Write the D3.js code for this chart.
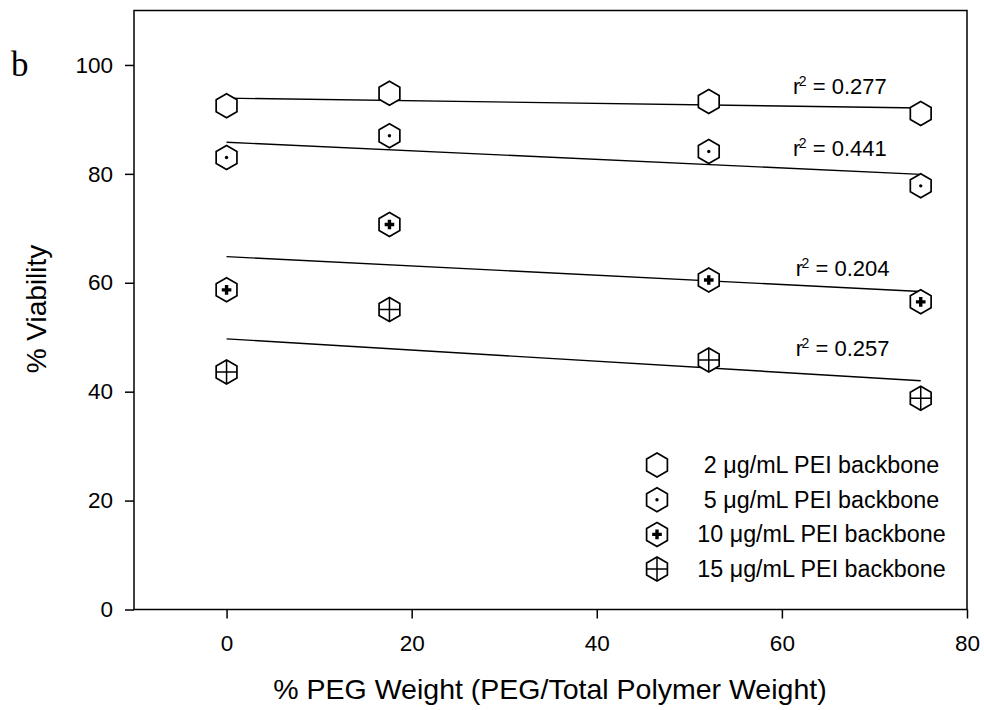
<!DOCTYPE html>
<html>
<head>
<meta charset="utf-8">
<script src="https://cdn.jsdelivr.net/npm/d3@7"></script>
<style>
  body { margin: 0; background: #fff; }
  svg { display: block; font-family: 'Liberation Sans', Arial, sans-serif; }
</style>
</head>
<body>
<script>
// wrap everything so nothing leaks into global scope
;(() => {
  // x values (% PEG weight) shared by all four series
  const pegWeight = [0, 17.6, 52.1, 75]

  // % viability for each PEI backbone dose
  const viability2 = [92.5, 94.8, 93.3, 91.1]
  const viability5 = [83.0, 87.0, 84.1, 77.8]
  const viability10 = [58.7, 70.7, 60.5, 56.5]
  const viability15 = [43.6, 55.1, 45.8, 38.8]

  const seriesNames = [
    '2 μg/mL PEI backbone',
    '5 μg/mL PEI backbone',
    '10 μg/mL PEI backbone',
    '15 μg/mL PEI backbone'
  ]

  // fitted lines, read at x = 0 and x = 75
  const fitX = [0, 75]
  const fitStart = [93.9, 85.8, 64.8, 49.7]
  const fitEnd = [92.1, 79.9, 58.4, 42.0]
  const rSquared = ['0.277', '0.441', '0.204', '0.257']

  const xTicks = [0, 20, 40, 60, 80]
  const yTicks = [0, 20, 40, 60, 80, 100]

  // layout
  const width = 984,
    height = 710
  const plot = { left: 134, right: 967, top: 10.5, bottom: 609.5 }
  // where each r^2 label starts (data units)
  const r2Anchor = [[61.2, 94.6], [61.2, 83.2], [61.5, 61.3], [61.5, 46.5]]
  const hexR = 12

  const allSeries = [viability2, viability5, viability10, viability15]

  const svg = d3
    .select('body')
    .append('svg')
    .attr('width', width)
    .attr('height', height)

  const x = d3.scaleLinear().domain([-10, 80]).range([plot.left, plot.right])
  const y = d3.scaleLinear().domain([0, 110]).range([plot.bottom, plot.top])

  // axes (ticks + labels only, frame drawn separately)
  const xAxis = svg
    .append('g')
    .attr('transform', `translate(0,${plot.bottom})`)
    .call(d3.axisBottom(x).tickValues(xTicks).tickSize(9).tickPadding(17).tickFormat(d3.format('d')))
  const yAxis = svg
    .append('g')
    .attr('transform', `translate(${plot.left},0)`)
    .call(d3.axisLeft(y).tickValues(yTicks).tickSize(9).tickPadding(12).tickFormat(d3.format('d')))

  ;[xAxis, yAxis].forEach(ax => {
    ax.select('.domain').remove()
    ax.selectAll('line').attr('stroke', '#000').attr('stroke-width', 1.5)
    ax.selectAll('text')
      .attr('fill', '#000')
      .style('font-size', '22.5px')
      .style('font-family', "'Liberation Sans', Arial, sans-serif")
  })

  // plot frame
  svg
    .append('rect')
    .attr('x', plot.left)
    .attr('y', plot.top)
    .attr('width', plot.right - plot.left)
    .attr('height', plot.bottom - plot.top)
    .attr('fill', 'none')
    .attr('stroke', '#000')
    .attr('stroke-width', 1.5)

  // regression lines
  const line = d3.line().x(d => x(d[0])).y(d => y(d[1]))
  svg
    .selectAll('.fit')
    .data(fitStart.map((s, i) => [[fitX[0], s], [fitX[1], fitEnd[i]]]))
    .enter()
    .append('path')
    .attr('class', 'fit')
    .attr('d', line)
    .attr('fill', 'none')
    .attr('stroke', '#000')
    .attr('stroke-width', 1.4)

  // hexagon marker with the inner decoration for each series
  const hexPath = r => {
    const pts = d3.range(6).map(k => {
      const a = (Math.PI / 3) * k - Math.PI / 2
      return [r * Math.cos(a), r * Math.sin(a)]
    })
    return 'M' + pts.map(p => p.join(',')).join('L') + 'Z'
  }

  const drawMarker = (g, kind) => {
    g.append('path')
      .attr('d', hexPath(hexR))
      .attr('fill', '#fff')
      .attr('stroke', '#000')
      .attr('stroke-width', 1.7)
    if (kind === 1) {
      g.append('circle').attr('r', 1.7).attr('fill', '#000')
    } else if (kind === 2) {
      g.append('path')
        .attr('d', 'M-4.8,0H4.8M0,-4.8V4.8')
        .attr('stroke', '#000')
        .attr('stroke-width', 3.4)
    } else if (kind === 3) {
      const hw = hexR * Math.cos(Math.PI / 6)
      g.append('path')
        .attr('d', `M0,${-hexR}V${hexR}M${-hw},0H${hw}`)
        .attr('stroke', '#000')
        .attr('stroke-width', 1.5)
    }
  }

  allSeries.forEach((vals, si) => {
    svg
      .selectAll('.pt' + si)
      .data(vals)
      .enter()
      .append('g')
      .attr('class', 'pt' + si)
      .attr('transform', (d, i) => `translate(${x(pegWeight[i])},${y(d)})`)
      .each(function () {
        drawMarker(d3.select(this), si)
      })
  })

  // r^2 annotations
  rSquared.forEach((r2, i) => {
    const t = svg
      .append('text')
      .attr('x', x(r2Anchor[i][0]))
      .attr('y', y(r2Anchor[i][1]))
      .style('font-size', '22px')
    t.append('tspan').text('r')
    t.append('tspan').attr('dx', -1.5).attr('dy', -8).style('font-size', '14px').text('2')
    t.append('tspan').attr('dy', 8).text(' = ' + r2)
  })

  // legend
  const legend = svg
    .selectAll('.legend')
    .data(seriesNames)
    .enter()
    .append('g')
    .attr('class', 'legend')
    .attr('transform', (d, i) => `translate(0,${465 + i * 34.7})`)
  legend.each(function (d, i) {
    const g = d3.select(this)
    drawMarker(g.append('g').attr('transform', 'translate(657,0)'), i)
    g.append('text')
      .attr('x', 821.5)
      .attr('y', 7.8)
      .attr('text-anchor', 'middle')
      .style('font-size', '23.3px')
      .text(d)
  })

  // axis titles
  svg
    .append('text')
    .attr('x', 550)
    .attr('y', 699)
    .attr('text-anchor', 'middle')
    .style('font-size', '28.5px')
    .text('% PEG Weight (PEG/Total Polymer Weight)')
  svg
    .append('text')
    .attr('transform', 'translate(46,309) rotate(-90)')
    .attr('text-anchor', 'middle')
    .style('font-size', '28px')
    .text('% Viability')

  // panel letter
  svg
    .append('text')
    .attr('x', 11)
    .attr('y', 76)
    .style('font-family', "'Liberation Serif', 'Times New Roman', serif")
    .style('font-size', '35px')
    .text('b')
})()
</script>
</body>
</html>
